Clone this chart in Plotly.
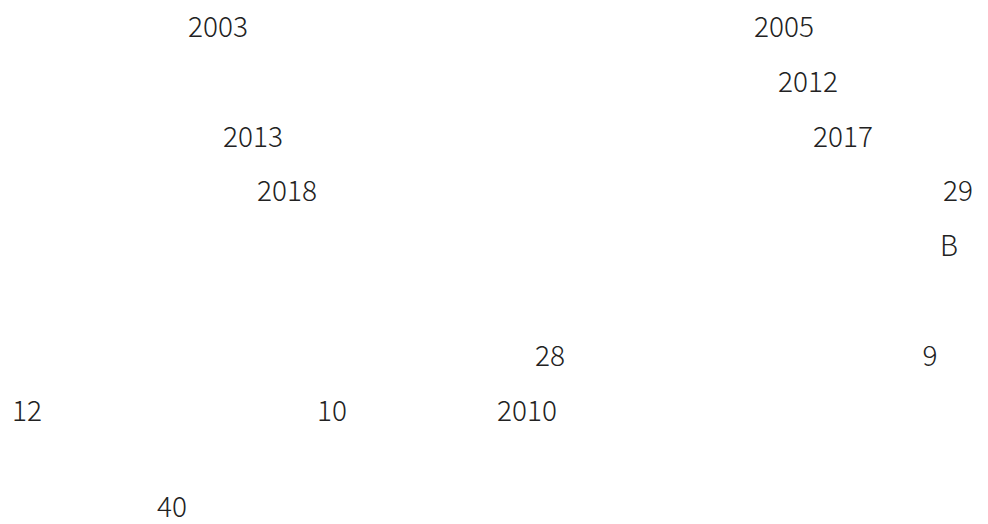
import plotly.graph_objects as go

labels = ["2003", "2005", "2012", "2013", "2017", "2018", "29", "B",
          "28", "9", "12", "10", "2010", "40"]
x_values = [210, 776, 800, 245, 835, 279, 950, 941,
            542, 922, 19, 324, 519, 164]
y_values = [0, 0, 1, 2, 2, 3, 3, 4,
            6, 6, 7, 7, 7, 8.75]

fig = go.Figure(go.Scatter(
    x=x_values, y=y_values, text=labels, mode="text",
    textposition="middle center",
    textfont=dict(family="Noto Sans CJK JP", size=28, color="#222222", weight=300),
    hoverinfo="skip", cliponaxis=False,
))
fig.update_layout(
    width=988, height=524,
    margin=dict(l=0, r=0, t=0, b=0),
    paper_bgcolor="white", plot_bgcolor="white",
    showlegend=False,
    xaxis=dict(range=[0, 988], visible=False),
    yaxis=dict(range=[9.148, -0.397], visible=False),
)
fig.write_html("out.html")
